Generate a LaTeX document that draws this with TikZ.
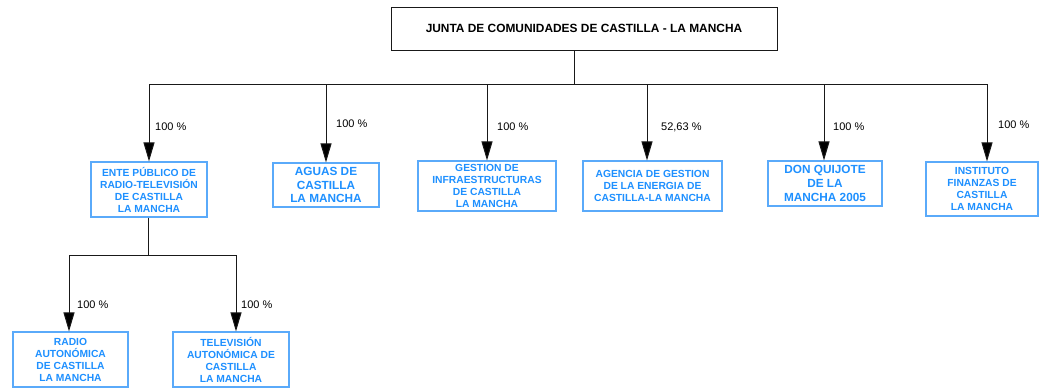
\documentclass[tikz,border=0pt]{standalone}
\usepackage{fontspec}
\setmainfont{Liberation Sans}
\usetikzlibrary{arrows.meta}
\definecolor{boxblue}{RGB}{30,144,255}
\definecolor{edgeblue}{RGB}{90,170,250}
\definecolor{linegray}{RGB}{25,25,25}
\tikzset{
  orgbox/.style={draw=edgeblue, line width=1.1pt, fill=white, text=boxblue, align=center,
     inner sep=0pt, font=\fontsize{10.3}{12}\selectfont\bfseries},
  bigbox/.style={orgbox, font=\fontsize{11.8}{13.6}\selectfont\bfseries},
  topbox/.style={draw=linegray, line width=1pt, inner sep=0pt, align=center,
     font=\fontsize{11.9}{14}\selectfont\bfseries},
  conn/.style={draw=linegray, line width=1pt},
  arr/.style={conn, -{Triangle[width=11pt,length=19pt,fill=black]}},
  pct/.style={anchor=west, inner sep=0pt, font=\fontsize{11}{13}\selectfont},
}
\begin{document}
\begin{tikzpicture}[x=1pt,y=-1pt]
\useasboundingbox (0,0) rectangle (1041,388);
% top box
\node[topbox, minimum width=386pt, minimum height=43pt] (top) at (584,28.5) {JUNTA DE COMUNIDADES DE CASTILLA - LA MANCHA};
% level 1 boxes
\node[orgbox, minimum width=116pt, minimum height=55pt] (ente) at (149,189.5) {ENTE PÚBLICO DE\\RADIO-TELEVISIÓN\\DE CASTILLA\\LA MANCHA};
\node[bigbox, minimum width=106pt, minimum height=44pt] (aguas) at (326,185) {AGUAS DE\\CASTILLA\\LA MANCHA};
\node[orgbox, minimum width=138pt, minimum height=50pt] (gest) at (487,186) {GESTION DE\\INFRAESTRUCTURAS\\DE CASTILLA\\LA MANCHA};
\node[orgbox, minimum width=139pt, minimum height=50pt] (agen) at (652.5,186) {AGENCIA DE GESTION\\DE LA ENERGIA DE\\CASTILLA-LA MANCHA};
\node[bigbox, minimum width=114pt, minimum height=45pt] (don) at (825,183.5) {DON QUIJOTE\\DE LA\\MANCHA 2005};
\node[orgbox, minimum width=112pt, minimum height=54pt] (inst) at (982,189) {INSTITUTO\\FINANZAS DE\\CASTILLA\\LA MANCHA};
% level 2 boxes
\node[orgbox, minimum width=115pt, minimum height=55pt] (radio) at (70.5,359.5) {RADIO\\AUTONÓMICA\\DE CASTILLA\\LA MANCHA};
\node[orgbox, minimum width=116pt, minimum height=55pt] (tele) at (231,359.5) {TELEVISIÓN\\AUTONÓMICA DE\\CASTILLA\\LA MANCHA};
% bus coordinates
\coordinate (j) at (574,84);
\coordinate (b1) at (149,84);
\coordinate (b2) at (326,84);
\coordinate (b3) at (487,84);
\coordinate (b4) at (647,84);
\coordinate (b5) at (824,84);
\coordinate (b6) at (987,84);
\coordinate (k) at (148,255);
\coordinate (c1) at (69,255);
\coordinate (c2) at (236,255);
% connectors
\draw[conn] (top.south -| j) -- (j);
\draw[conn] (b1) -- (b6);
\draw[arr] (b1) -- (b1 |- ente.north);
\draw[arr] (b2) -- (b2 |- aguas.north);
\draw[arr] (b3) -- (b3 |- gest.north);
\draw[arr] (b4) -- (b4 |- agen.north);
\draw[arr] (b5) -- (b5 |- don.north);
\draw[arr] (b6) -- (b6 |- inst.north);
\draw[conn] (ente.south -| k) -- (k);
\draw[conn] (c1) -- (c2);
\draw[arr] (c1) -- (c1 |- radio.north);
\draw[arr] (c2) -- (c2 |- tele.north);
% percentages
\node[pct] (p1) at (155,127) {100 \%};
\node[pct] (p2) at (336,124) {100 \%};
\node[pct] (p3) at (497,127) {100 \%};
\node[pct] (p4) at (661,127) {52,63 \%};
\node[pct] (p5) at (833,127) {100 \%};
\node[pct] (p6) at (998,125) {100 \%};
\node[pct] (p7) at (77,305) {100 \%};
\node[pct] (p8) at (241,305) {100 \%};
\end{tikzpicture}
\end{document}
